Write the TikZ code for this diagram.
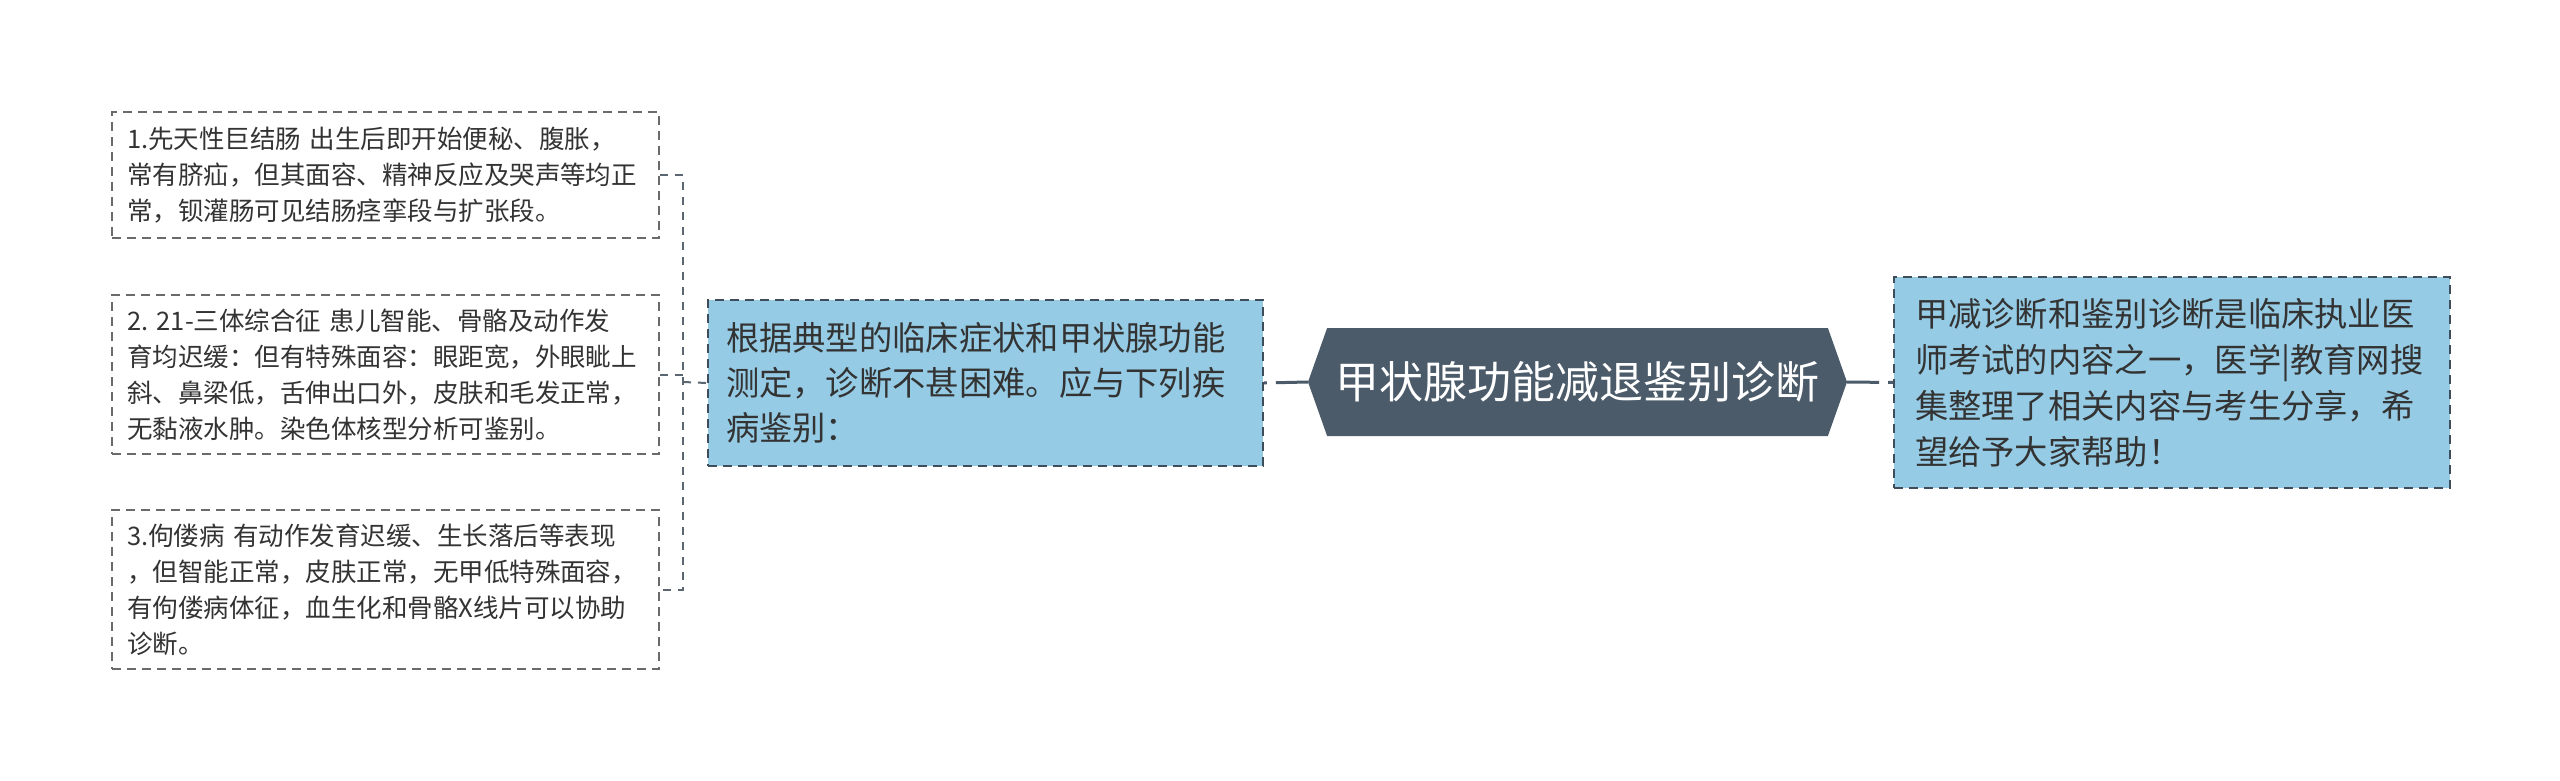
\documentclass[tikz,border=0pt]{standalone}
\usepackage{fontspec}
\setmainfont{Noto Sans CJK SC}
\usetikzlibrary{shapes.symbols}
\frenchspacing
\definecolor{boxblue}{HTML}{95CBE4}
\definecolor{hexfill}{HTML}{4B5B6A}
\definecolor{txt}{HTML}{333333}
\definecolor{bordergray}{HTML}{6A6A6A}
\definecolor{borderdark}{HTML}{3F4D5A}
\definecolor{brkcol}{HTML}{5C6670}
\tikzset{
  smallbox/.style={draw=bordergray, line width=2pt, dash pattern=on 9pt off 6pt,
    fill=white, anchor=north west, inner xsep=15pt, inner ysep=0pt,
    text width=517pt, minimum width=547pt, align=left, text=txt,
    font=\fontsize{25.5}{36}\selectfont\frenchspacing},
  bluebox/.style={draw=borderdark, line width=2pt, dash pattern=on 9pt off 6pt,
    fill=boxblue, anchor=north west, inner ysep=0pt, align=left, text=txt,
    font=\fontsize{33.3}{45}\selectfont},
  hexnode/.style={signal, signal to=west and east, signal pointer angle=141,
    fill=hexfill, draw=none, inner sep=0pt, text=white,
    minimum width=539pt, minimum height=108pt,
    font=\fontsize{44}{50}\selectfont},
  brk/.style={draw=brkcol, line width=2pt, dash pattern=on 8pt off 7pt},
  hexline/.style={draw=hexfill, line width=3pt, dash pattern=on 32pt off 9pt},
}
\begin{document}
\begin{tikzpicture}[x=1pt,y=-1pt]
\useasboundingbox (0,0) rectangle (2560,781);
\fill[white] (0,0) rectangle (2560,781);

\node[smallbox, minimum height=126pt] (b1) at (111,111)
  {1.先天性巨结肠 出生后即开始便秘、腹胀，\\常有脐疝，但其面容、精神反应及哭声等均正\\常，钡灌肠可见结肠痉挛段与扩张段。};
\node[smallbox, minimum height=159pt] (b2) at (111,294)
  {2. 21-三体综合征 患儿智能、骨骼及动作发\\育均迟缓：但有特殊面容：眼距宽，外眼眦上\\斜、鼻梁低，舌伸出口外，皮肤和毛发正常，\\无黏液水肿。染色体核型分析可鉴别。};
\node[smallbox, minimum height=159pt] (b3) at (111,509)
  {3.佝偻病 有动作发育迟缓、生长落后等表现\\，但智能正常，皮肤正常，无甲低特殊面容，\\有佝偻病体征，血生化和骨骼X线片可以协助\\诊断。};

\node[bluebox, inner xsep=18pt, text width=519pt, minimum width=555pt, minimum height=166pt] (mid) at (707,299)
  {根据典型的临床症状和甲状腺功能\\测定，诊断不甚困难。应与下列疾\\病鉴别：};

\node[hexnode] (hex) at (1577.5,382) {甲状腺功能减退鉴别诊断};

\node[bluebox, inner xsep=21pt, text width=514pt, minimum width=556pt, minimum height=211pt,
  font=\fontsize{33.3}{46}\selectfont] (rt) at (1893,276)
  {甲减诊断和鉴别诊断是临床执业医\\师考试的内容之一，医学|教育网搜\\集整理了相关内容与考生分享，希\\望给予大家帮助！};

\coordinate (j) at (683,382);
\draw[brk] (b1.east) -| (j) |- (b3.east);
\draw[brk] (b2.east) -- (b2.east -| j);
\draw[brk] (j) -- (mid.west);

\draw[hexline] (hex.west) -- (mid.east);
\draw[hexline] (hex.east) -- (rt.west);
\end{tikzpicture}
\end{document}
